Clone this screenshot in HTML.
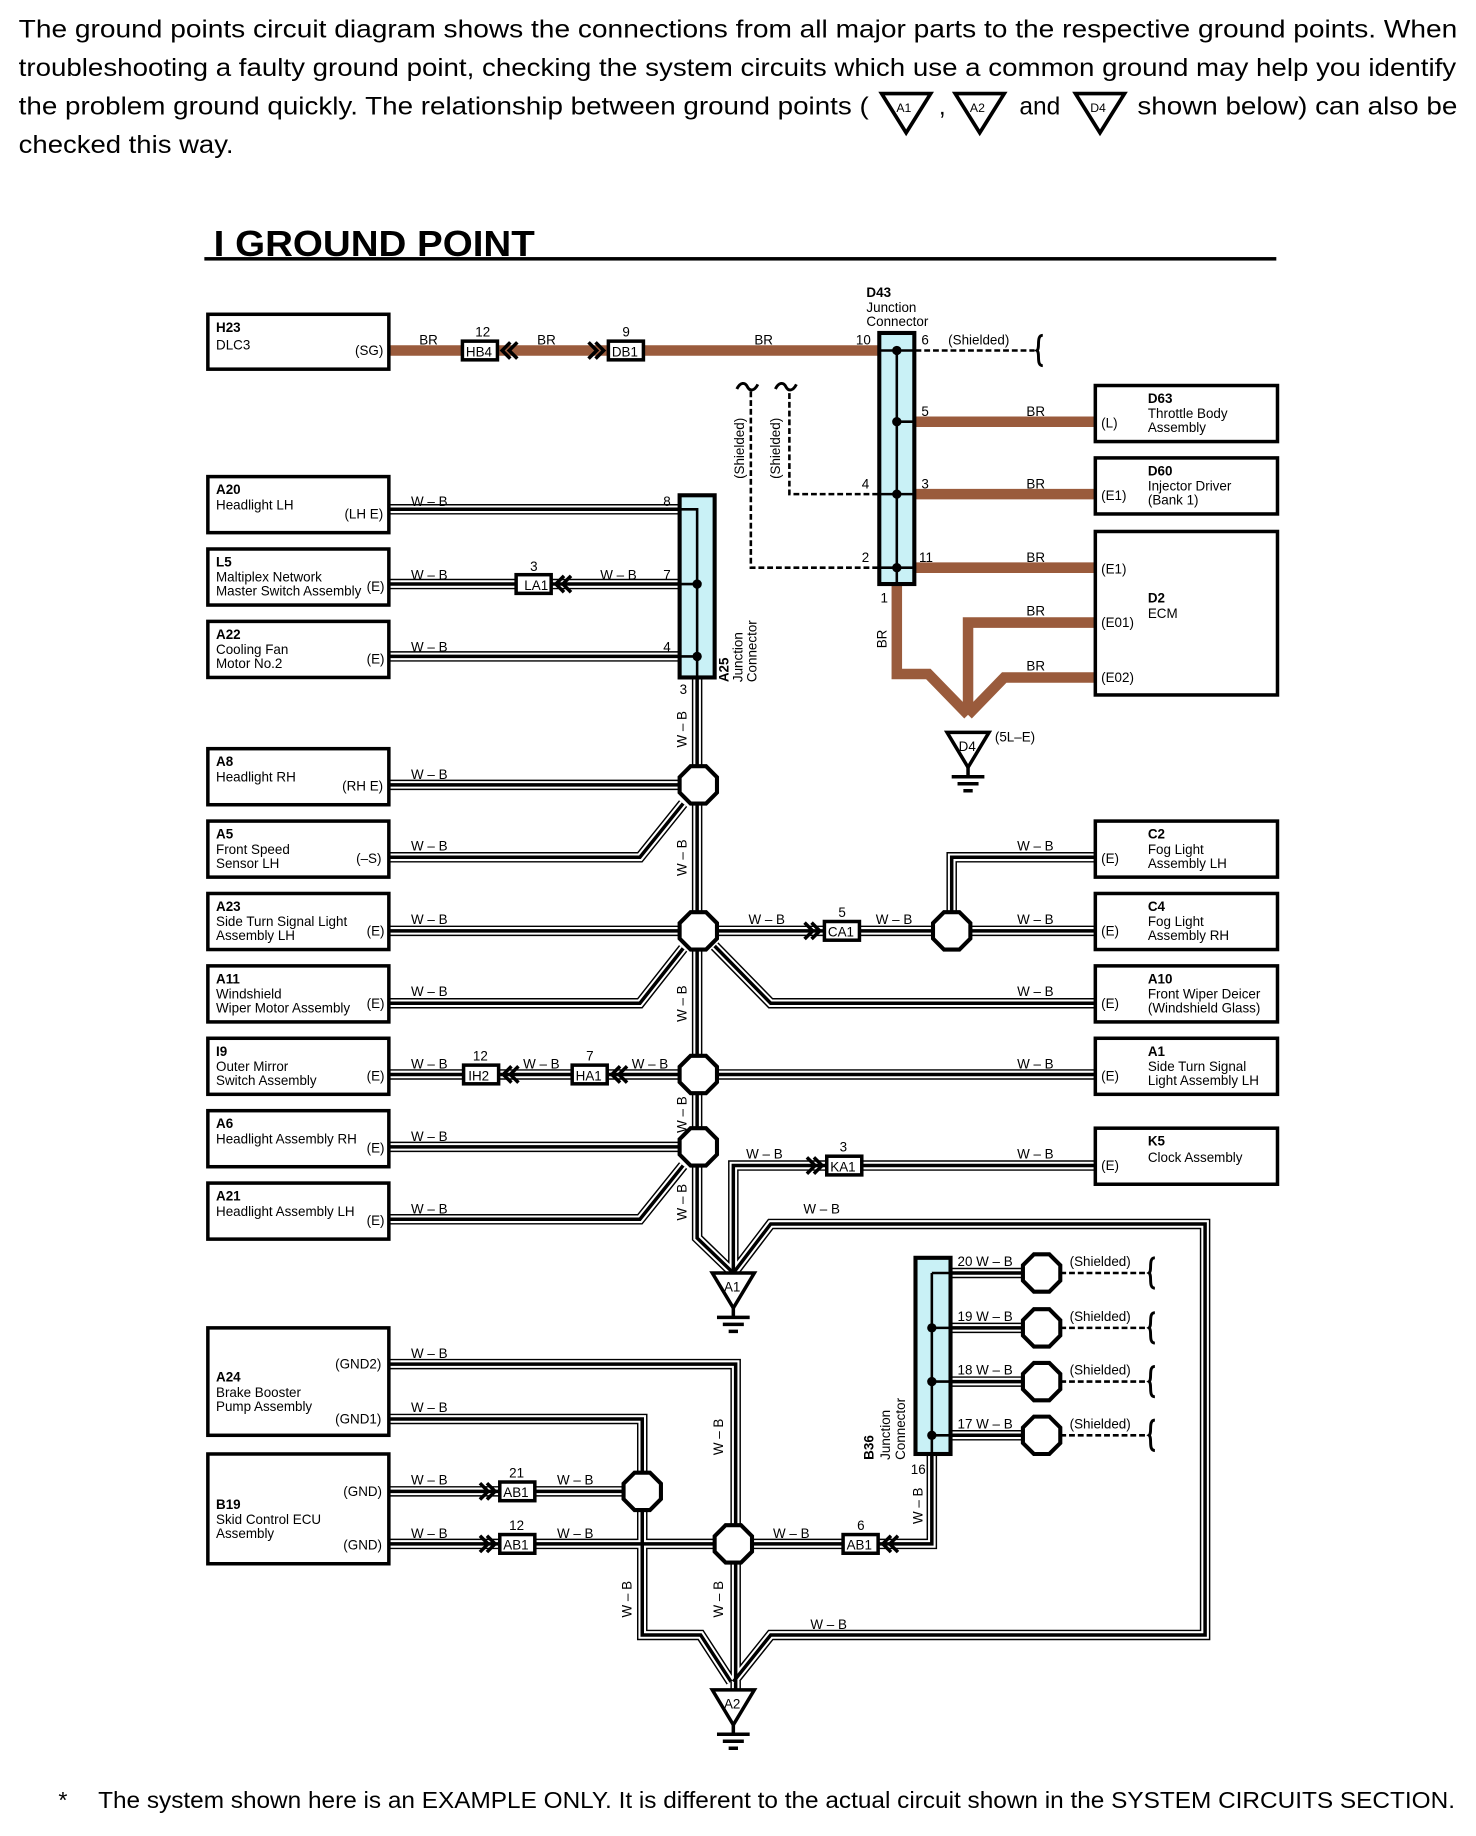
<!DOCTYPE html>
<html><head><meta charset="utf-8"><style>
html,body{margin:0;padding:0;background:#fff}
svg{display:block}
text{font-family:"Liberation Sans",Arial,sans-serif;fill:#000}
.t{font-size:11.5px}
.b{font-weight:bold;font-size:11.5px}
.k1{fill:none;stroke:#000;stroke-width:9;stroke-linejoin:miter}
.k2{fill:none;stroke:#fff;stroke-width:6.5;stroke-linejoin:miter}
.k3{fill:none;stroke:#000;stroke-width:3;stroke-linejoin:miter}
.br{fill:none;stroke:#9a5b3c;stroke-width:9}
.ds{fill:none;stroke:#000;stroke-width:2.2;stroke-dasharray:5 2.5}
.bx{fill:#fff;stroke:#000;stroke-width:3}
.jc{fill:#c9f1f6;stroke:#000;stroke-width:3.5}
</style></head><body>
<svg width="1476" height="1836" viewBox="0 0 1264 1572" xmlns="http://www.w3.org/2000/svg">
<defs>
<polygon id="oct" points="-6.6,-16 6.6,-16 16,-6.6 16,6.6 6.6,16 -6.6,16 -16,6.6 -16,-6.6" fill="#fff" stroke="#000" stroke-width="3.5"/>
<path id="chR" d="M-10 -7 L-3 0 L-10 7 M-4 -7 L3 0 L-4 7" fill="none" stroke="#000" stroke-width="3"/>
<path id="chL" d="M10 -7 L3 0 L10 7 M4 -7 L-3 0 L4 7" fill="none" stroke="#000" stroke-width="3"/>
<g id="gnd"><path d="M-18 0 H18 L0 30 Z" fill="#fff" stroke="#000" stroke-width="3"/><path d="M0 30 V38 M-14 38 H14 M-9 44 H9 M-4 50 H4" stroke="#000" stroke-width="3"/></g>
<path id="brace" d="M0 -13 C-6 -13 -2 -2 -5 0 C-2 2 -6 13 0 13" fill="none" stroke="#000" stroke-width="2.5"/>
<path id="tl" d="M-9 2 C-6 -4 -2 -4 0 0 C2 4 6 4 9 -2" fill="none" stroke="#000" stroke-width="2.5"/>
</defs>

<!-- header text -->
<g style="font-size:21px">
<text x="16" y="32" textLength="1232" lengthAdjust="spacingAndGlyphs">The ground points circuit diagram shows the connections from all major parts to the respective ground points. When</text>
<text x="16" y="65" textLength="1231" lengthAdjust="spacingAndGlyphs">troubleshooting a faulty ground point, checking the system circuits which use a common ground may help you identify</text>
<text x="16" y="98" textLength="728" lengthAdjust="spacingAndGlyphs">the problem ground quickly. The relationship between ground points (</text>
<text x="804" y="98">,</text>
<text x="873" y="98">and</text>
<text x="974" y="98" textLength="274" lengthAdjust="spacingAndGlyphs">shown below) can also be</text>
<text x="16" y="131" textLength="184" lengthAdjust="spacingAndGlyphs">checked this way.</text>
</g>
<g transform="translate(776,80) scale(1.05)"><path d="M-20 0 H20 L0 32 Z" fill="#fff" stroke="#000" stroke-width="3"/><text x="-8" y="15" style="font-size:10px">A1</text></g>
<g transform="translate(839,80) scale(1.05)"><path d="M-20 0 H20 L0 32 Z" fill="#fff" stroke="#000" stroke-width="3"/><text x="-8" y="15" style="font-size:10px">A2</text></g>
<g transform="translate(942,80) scale(1.05)"><path d="M-20 0 H20 L0 32 Z" fill="#fff" stroke="#000" stroke-width="3"/><text x="-8" y="15" style="font-size:10px">D4</text></g>

<text x="183" y="219" style="font-size:31px;font-weight:bold" textLength="275" lengthAdjust="spacingAndGlyphs">I GROUND POINT</text>
<rect x="175" y="220" width="918" height="3"/>

<!-- BR wires -->
<path class="br" d="M333 300 H768"/>
<path class="br" d="M784 361 H938 M784 423 H938 M784 486 H938"/>
<path class="br" d="M768 500 V577 H795 L829 612 M938 533 H829 V612 M938 580 H860 L829 612"/>
<!-- dashed shielded -->
<path class="ds" d="M784 300 H886"/>
<use href="#brace" x="893" y="300"/>
<path class="ds" d="M752 423 H676 V333 M752 486 H643 V333"/>
<use href="#tl" x="640" y="331"/><use href="#tl" x="673" y="331"/>

<!-- W-B wires -->
<defs>
<path id="w" d="M333 436 H582 M333 500 H582 M333 562 H582
M597 580 V1060 L628 1090
M333 672 H598
M333 734 H548 L585 688
M333 797 H938
M815 797 V734 H938
M333 859 H548 L585 812
M612 810 L660 859 H938
M333 920 H938
M333 982 H598
M333 1044 H548 L585 998
M938 998 H628 V1090
M628 1090 L660 1048 H1032 V1400 H660 L628 1440
M333 1168 H630 V1447
M333 1215 H550 V1400 H600 L626 1440
M333 1277 H550
M333 1322 H628
M628 1322 H798 V1246
M814 1090 H892 M814 1137 H892 M814 1183 H892 M814 1229 H892"/>
</defs>
<use href="#w" class="k1"/><use href="#w" class="k2"/><use href="#w" class="k3"/>
<path class="ds" d="M908 1090 H983 M908 1137 H983 M908 1183 H983 M908 1229 H983"/>
<use href="#brace" x="989" y="1090"/><use href="#brace" x="989" y="1137"/><use href="#brace" x="989" y="1183"/><use href="#brace" x="989" y="1229"/>

<!-- junction connectors -->
<rect class="jc" x="582" y="424" width="30" height="156"/>
<path d="M582 436 H597 V580 M582 500 H597 M582 562 H597" stroke="#000" stroke-width="2.2" fill="none"/>
<circle cx="597" cy="500" r="4"/><circle cx="597" cy="562" r="4"/>
<rect class="jc" x="753" y="285" width="30" height="215"/>
<path d="M768 300 V500 M753 300 H783 M768 361 H783 M753 423 H783 M753 486 H783" stroke="#000" stroke-width="2.2"/>
<circle cx="768" cy="300" r="4"/><circle cx="768" cy="361" r="4"/><circle cx="768" cy="423" r="4"/><circle cx="768" cy="486" r="4"/>
<rect class="jc" x="784" y="1077" width="30" height="168"/>
<path d="M798 1090 V1245 M798 1090 H814 M798 1137 H814 M798 1183 H814 M798 1229 H814" stroke="#000" stroke-width="2.2"/>
<circle cx="798" cy="1137" r="4"/><circle cx="798" cy="1183" r="4"/><circle cx="798" cy="1229" r="4"/>

<!-- octagons -->
<use href="#oct" x="598" y="672"/><use href="#oct" x="598" y="797"/><use href="#oct" x="815" y="797"/>
<use href="#oct" x="598" y="920"/><use href="#oct" x="598" y="982"/>
<use href="#oct" x="550" y="1277"/><use href="#oct" x="628" y="1322"/>
<use href="#oct" x="892" y="1090"/><use href="#oct" x="892" y="1137"/><use href="#oct" x="892" y="1183"/><use href="#oct" x="892" y="1229"/>

<!-- grounds -->
<use href="#gnd" x="628" y="1090"/><text x="620" y="1106" class="t">A1</text>
<use href="#gnd" x="628" y="1447"/><text x="620" y="1463" class="t">A2</text>
<use href="#gnd" x="829" y="627"/><text x="821" y="643" class="t">D4</text>
<text x="852" y="635" class="t">(5L–E)</text>

<!-- inline connectors -->
<g class="t">
<rect class="bx" x="396" y="292" width="30" height="16"/><text x="399" y="305">HB4</text><use href="#chL" x="433" y="300"/><text x="407" y="288">12</text>
<rect class="bx" x="521" y="292" width="30" height="16"/><text x="524" y="305">DB1</text><use href="#chR" x="514" y="300"/><text x="533" y="288">9</text>
<rect class="bx" x="442" y="492" width="30" height="16"/><text x="449" y="505">LA1</text><use href="#chL" x="479" y="500"/><text x="454" y="489">3</text>
<rect class="bx" x="706" y="789" width="30" height="16"/><text x="709" y="802">CA1</text><use href="#chR" x="699" y="797"/><text x="718" y="785">5</text>
<rect class="bx" x="397" y="912" width="30" height="16"/><text x="401" y="925">IH2</text><use href="#chL" x="434" y="920"/><text x="405" y="908">12</text>
<rect class="bx" x="490" y="912" width="30" height="16"/><text x="493" y="925">HA1</text><use href="#chL" x="527" y="920"/><text x="502" y="908">7</text>
<rect class="bx" x="708" y="990" width="30" height="16"/><text x="711" y="1003">KA1</text><use href="#chR" x="701" y="998"/><text x="719" y="986">3</text>
<rect class="bx" x="428" y="1269" width="30" height="16"/><text x="431" y="1282">AB1</text><use href="#chR" x="421" y="1277"/><text x="436" y="1265">21</text>
<rect class="bx" x="428" y="1314" width="30" height="16"/><text x="431" y="1327">AB1</text><use href="#chR" x="421" y="1322"/><text x="436" y="1310">12</text>
<rect class="bx" x="722" y="1314" width="30" height="16"/><text x="725" y="1327">AB1</text><use href="#chL" x="759" y="1322"/><text x="734" y="1310">6</text>
</g>

<!-- left boxes -->
<g class="t">
<rect class="bx" x="178" y="269" width="155" height="47"/><text x="185" y="284" class="b">H23</text><text x="185" y="299">DLC3</text><text x="304" y="304">(SG)</text>
<rect class="bx" x="178" y="408" width="155" height="48"/><text x="185" y="423" class="b">A20</text><text x="185" y="436">Headlight LH</text><text x="295" y="444">(LH E)</text>
<rect class="bx" x="178" y="470" width="155" height="48"/><text x="185" y="485" class="b">L5</text><text x="185" y="498">Maltiplex Network</text><text x="185" y="510">Master Switch Assembly</text><text x="314" y="506">(E)</text>
<rect class="bx" x="178" y="532" width="155" height="48"/><text x="185" y="547" class="b">A22</text><text x="185" y="560">Cooling Fan</text><text x="185" y="572">Motor No.2</text><text x="314" y="568">(E)</text>
<rect class="bx" x="178" y="641" width="155" height="48"/><text x="185" y="656" class="b">A8</text><text x="185" y="669">Headlight RH</text><text x="293" y="677">(RH E)</text>
<rect class="bx" x="178" y="703" width="155" height="48"/><text x="185" y="718" class="b">A5</text><text x="185" y="731">Front Speed</text><text x="185" y="743">Sensor LH</text><text x="305" y="739">(–S)</text>
<rect class="bx" x="178" y="765" width="155" height="48"/><text x="185" y="780" class="b">A23</text><text x="185" y="793">Side Turn Signal Light</text><text x="185" y="805">Assembly LH</text><text x="314" y="801">(E)</text>
<rect class="bx" x="178" y="827" width="155" height="48"/><text x="185" y="842" class="b">A11</text><text x="185" y="855">Windshield</text><text x="185" y="867">Wiper Motor Assembly</text><text x="314" y="863">(E)</text>
<rect class="bx" x="178" y="889" width="155" height="48"/><text x="185" y="904" class="b">I9</text><text x="185" y="917">Outer Mirror</text><text x="185" y="929">Switch Assembly</text><text x="314" y="925">(E)</text>
<rect class="bx" x="178" y="951" width="155" height="48"/><text x="185" y="966" class="b">A6</text><text x="185" y="979">Headlight Assembly RH</text><text x="314" y="987">(E)</text>
<rect class="bx" x="178" y="1013" width="155" height="48"/><text x="185" y="1028" class="b">A21</text><text x="185" y="1041">Headlight Assembly LH</text><text x="314" y="1049">(E)</text>
<rect class="bx" x="178" y="1137" width="155" height="92"/><text x="287" y="1172">(GND2)</text><text x="185" y="1183" class="b">A24</text><text x="185" y="1196">Brake Booster</text><text x="185" y="1208">Pump Assembly</text><text x="287" y="1219">(GND1)</text>
<rect class="bx" x="178" y="1245" width="155" height="94"/><text x="294" y="1281">(GND)</text><text x="185" y="1292" class="b">B19</text><text x="185" y="1305">Skid Control ECU</text><text x="185" y="1317">Assembly</text><text x="294" y="1327">(GND)</text>
</g>
<!-- right boxes -->
<g class="t">
<rect class="bx" x="938" y="330" width="156" height="48"/><text x="983" y="345" class="b">D63</text><text x="983" y="358">Throttle Body</text><text x="983" y="370">Assembly</text><text x="943" y="366">(L)</text>
<rect class="bx" x="938" y="392" width="156" height="48"/><text x="983" y="407" class="b">D60</text><text x="983" y="420">Injector Driver</text><text x="983" y="432">(Bank 1)</text><text x="943" y="428">(E1)</text>
<rect class="bx" x="938" y="455" width="156" height="140"/><text x="983" y="516" class="b">D2</text><text x="983" y="529">ECM</text><text x="943" y="491">(E1)</text><text x="943" y="537">(E01)</text><text x="943" y="584">(E02)</text>
<rect class="bx" x="938" y="703" width="156" height="48"/><text x="983" y="718" class="b">C2</text><text x="983" y="731">Fog Light</text><text x="983" y="743">Assembly LH</text><text x="943" y="739">(E)</text>
<rect class="bx" x="938" y="765" width="156" height="48"/><text x="983" y="780" class="b">C4</text><text x="983" y="793">Fog Light</text><text x="983" y="805">Assembly RH</text><text x="943" y="801">(E)</text>
<rect class="bx" x="938" y="827" width="156" height="48"/><text x="983" y="842" class="b">A10</text><text x="983" y="855">Front Wiper Deicer</text><text x="983" y="867">(Windshield Glass)</text><text x="943" y="863">(E)</text>
<rect class="bx" x="938" y="889" width="156" height="48"/><text x="983" y="904" class="b">A1</text><text x="983" y="917">Side Turn Signal</text><text x="983" y="929">Light Assembly LH</text><text x="943" y="925">(E)</text>
<rect class="bx" x="938" y="966" width="156" height="48"/><text x="983" y="981" class="b">K5</text><text x="983" y="995">Clock Assembly</text><text x="943" y="1002">(E)</text>
</g>

<!-- wire labels -->
<g class="t">
<text x="359" y="295">BR</text><text x="460" y="295">BR</text><text x="646" y="295">BR</text>
<text x="879" y="356">BR</text><text x="879" y="418">BR</text><text x="879" y="481">BR</text><text x="879" y="527">BR</text><text x="879" y="574">BR</text>
<text x="733" y="295">10</text><text x="789" y="295">6</text><text x="812" y="295">(Shielded)</text>
<text x="789" y="356">5</text><text x="789" y="418">3</text><text x="787" y="481">11</text><text x="738" y="418">4</text><text x="738" y="481">2</text><text x="754" y="516">1</text>
<text transform="translate(759,555) rotate(-90)">BR</text>
<text transform="translate(637,410) rotate(-90)">(Shielded)</text>
<text transform="translate(668,410) rotate(-90)">(Shielded)</text>
<text x="742" y="254" class="b">D43</text><text x="742" y="267">Junction</text><text x="742" y="279">Connector</text>
<text transform="translate(624,584) rotate(-90)" class="b">A25</text>
<text transform="translate(636,584) rotate(-90)">Junction</text>
<text transform="translate(648,584) rotate(-90)">Connector</text>
<text x="568" y="433">8</text><text x="568" y="496">7</text><text x="568" y="558">4</text><text x="582" y="594">3</text>
<text x="352" y="433">W – B</text><text x="352" y="496">W – B</text><text x="514" y="496">W – B</text><text x="352" y="558">W – B</text>
<text x="352" y="667">W – B</text><text x="352" y="728">W – B</text><text x="352" y="791">W – B</text><text x="352" y="853">W – B</text>
<text x="352" y="915">W – B</text><text x="448" y="915">W – B</text><text x="541" y="915">W – B</text><text x="352" y="977">W – B</text><text x="352" y="1039">W – B</text>
<text x="641" y="791">W – B</text><text x="750" y="791">W – B</text><text x="871" y="728">W – B</text><text x="871" y="791">W – B</text>
<text x="871" y="853">W – B</text><text x="871" y="915">W – B</text><text x="871" y="992">W – B</text><text x="639" y="992">W – B</text>
<text x="688" y="1039">W – B</text><text x="694" y="1395">W – B</text>
<text transform="translate(588,640) rotate(-90)">W – B</text>
<text transform="translate(588,750) rotate(-90)">W – B</text>
<text transform="translate(588,875) rotate(-90)">W – B</text>
<text transform="translate(588,970) rotate(-90)">W – B</text>
<text transform="translate(588,1045) rotate(-90)">W – B</text>
<text x="352" y="1163">W – B</text><text x="352" y="1209">W – B</text>
<text x="352" y="1271">W – B</text><text x="477" y="1271">W – B</text>
<text x="352" y="1317">W – B</text><text x="477" y="1317">W – B</text><text x="662" y="1317">W – B</text>
<text transform="translate(619,1246) rotate(-90)">W – B</text>
<text transform="translate(619,1385) rotate(-90)">W – B</text>
<text transform="translate(541,1385) rotate(-90)">W – B</text>
<text transform="translate(790,1305) rotate(-90)">W – B</text>
<text x="780" y="1262">16</text>
<text transform="translate(748,1250) rotate(-90)" class="b">B36</text>
<text transform="translate(762,1250) rotate(-90)">Junction</text>
<text transform="translate(775,1250) rotate(-90)">Connector</text>
<text x="820" y="1084">20 W – B</text><text x="820" y="1131">19 W – B</text><text x="820" y="1177">18 W – B</text><text x="820" y="1223">17 W – B</text>
<text x="916" y="1084">(Shielded)</text><text x="916" y="1131">(Shielded)</text><text x="916" y="1177">(Shielded)</text><text x="916" y="1223">(Shielded)</text>
</g>

<text x="50" y="1548" style="font-size:20px">*</text>
<text x="84" y="1548" style="font-size:20px" textLength="1162" lengthAdjust="spacingAndGlyphs">The system shown here is an EXAMPLE ONLY. It is different to the actual circuit shown in the SYSTEM CIRCUITS SECTION.</text>
</svg>
</body></html>
